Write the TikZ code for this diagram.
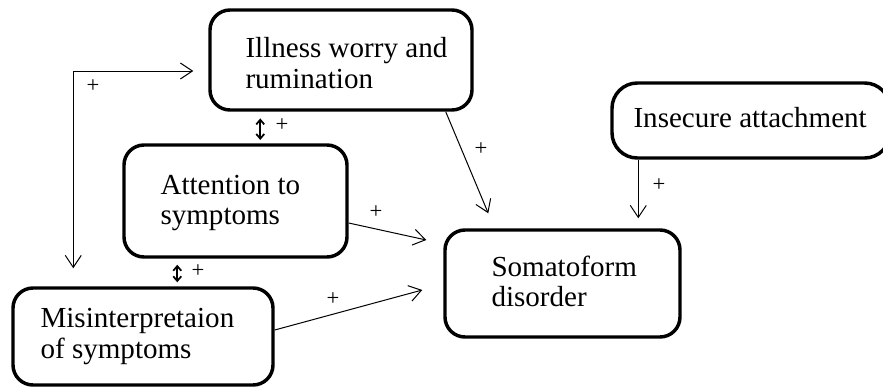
\documentclass[tikz,border=0pt]{standalone}
\usepackage{fontspec}
\setmainfont{Liberation Serif}
\usetikzlibrary{arrows.meta,calc}
\begin{document}
\begin{tikzpicture}[x=0.75pt,y=-0.75pt,
  box/.style={draw, line width=2.6pt, rounded corners=15pt, inner sep=0pt},
  lbl/.style={font=\fontsize{21.8}{23}\selectfont, align=left, anchor=west, inner sep=0pt},
  conn/.style={line width=0.75pt, -{Straight Barb[length=9pt,width=12pt,line width=0.75pt]}},
  fb/.style={line width=0.75pt, {Straight Barb[length=9pt,width=12pt,line width=0.75pt]}-{Straight Barb[length=9pt,width=12pt,line width=0.75pt]}},
  dbl/.style={line width=1.3pt, {Straight Barb[length=3.5pt,width=6pt]}-{Straight Barb[length=3.5pt,width=6pt]}},
  plus/.style={font=\fontsize{17}{17}\selectfont, inner sep=0pt}]
\useasboundingbox (0,0) rectangle (883,387);
\clip (0,0) rectangle (883,387);
% boxes
\node[box, minimum width=196.5pt, minimum height=75pt] (b1) at (341,60) {};
\node[box, minimum width=167.25pt, minimum height=84pt] (b2) at (235.5,201) {};
\node[box, minimum width=195pt, minimum height=72.75pt] (b3) at (143,336.5) {};
\node[box, minimum width=176.25pt, minimum height=80.25pt] (b4) at (562.5,283.5) {};
\node[box, rounded corners=19pt, minimum width=208.5pt, minimum height=56.25pt] (b5) at (751,120.5) {};
% texts
\node[lbl] (t1) at ($(b1.west)+(37,3)$) {Illness worry and\\rumination};
\node[lbl] (t2) at ($(b2.west)+(38,2)$) {Attention to\\symptoms};
\node[lbl] (t3) at ($(b3.west)+(29,0)$) {Misinterpretaion\\of symptoms};
\node[lbl] (t4) at ($(b4.west)+(48,-2)$) {Somatoform\\disorder};
\node[lbl] (t5) at ($(b5.west)+(23,-3)$) {Insecure attachment};
% feedback loop
\coordinate (fbA) at ($(b3.north west)+(62,-18)$);
\coordinate (fbB) at ($(b1.west)+(-15,11)$);
\draw[fb] (fbA) |- (fbB);
% small double arrows
\draw[dbl, shorten <=2.5pt, shorten >=5pt] ($(b2.north west)+(138,0)$) -- ($(b1.south west)+(52,0)$);
\draw[dbl, shorten <=4.5pt, shorten >=3pt] ($(b2.south west)+(55,0)$) -- ($(b3.north west)+(166,0)$);
% arrows into Somatoform disorder
\draw[conn] ($(b2.east)+(0,22)$) -- ($(b4.west)+(-17,-43.5)$);
\draw[conn] ($(b3.east)+(0,-6.5)$) -- ($(b4.west)+(-21,6.5)$);
\draw[conn] ($(b1.south east)+(-28,0)$) -- ($(b4.north west)+(45,-15)$);
\draw[conn] ($(b5.south west)+(28,0)$) -- ($(b4.north west)+(195,-10)$);
% plus signs
\node[plus] (p1) at (93,86) {+};
\node[plus] (p2) at (282,125) {+};
\node[plus] (p3) at (198,271) {+};
\node[plus] (p4) at (376,212) {+};
\node[plus] (p5) at (333,299) {+};
\node[plus] (p6) at (481,149) {+};
\node[plus] (p7) at (659,185) {+};
\end{tikzpicture}
\end{document}
